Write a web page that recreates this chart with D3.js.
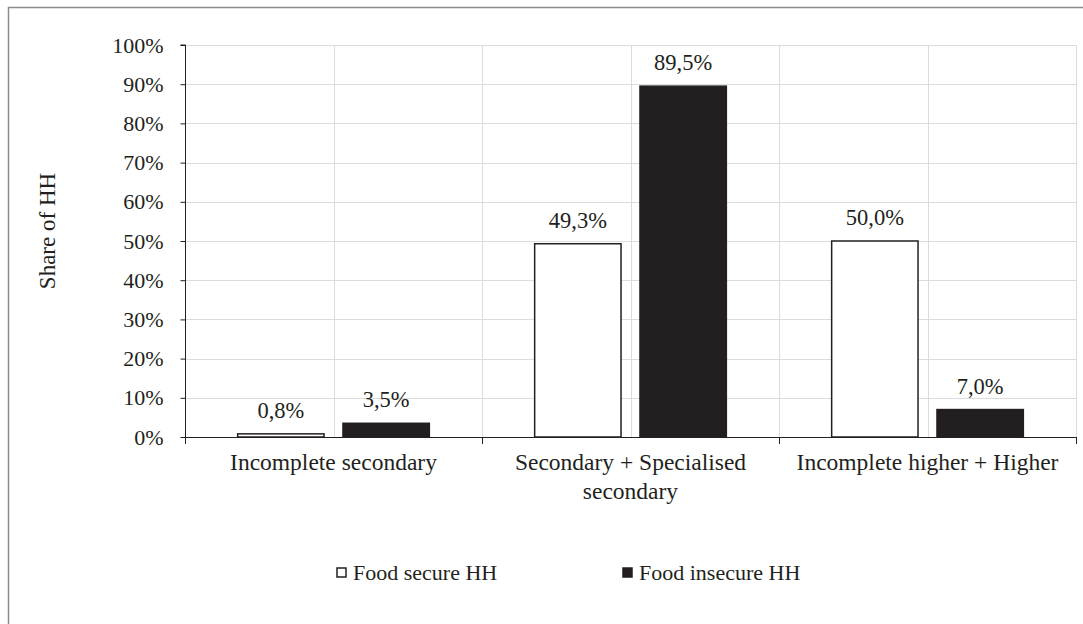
<!DOCTYPE html>
<html>
<head>
<meta charset="utf-8">
<script src="https://cdn.jsdelivr.net/npm/d3@7"></script>
<style>
  body { margin: 0; background: #fff; }
  svg text { font-family: "Liberation Serif", "Times New Roman", serif; fill: #231f20; }
</style>
</head>
<body>
<svg id="chart" width="1083" height="624"></svg>
<script>
// chart data
const categories = [["Incomplete secondary"], ["Secondary + Specialised", "secondary"], ["Incomplete higher + Higher"]];
const seriesNames = ["Food secure HH", "Food insecure HH"];
const foodSecure = [0.8, 49.3, 50.0];
const foodInsecure = [3.5, 89.5, 7.0];
const yTicks = [0, 10, 20, 30, 40, 50, 60, 70, 80, 90, 100];

const fills = ["#ffffff", "#231f20"];
const margin = {left: 185, right: 1076, top: 45, bottom: 437};

const svg = d3.select("#chart");

//outer frame
svg.append("rect")
    .attr("x", 8.5).attr("y", 7.5)
    .attr("width", 1090).attr("height", 640)
    .attr("fill", "none").attr("stroke", "#8c8c8c").attr("stroke-width", 1.5);

let x = d3.scaleBand()
    .domain(d3.range(categories.length))
    .range([margin.left, margin.right]);
let xInner = d3.scaleBand()
    .domain([0, 1])
    .range([0, x.bandwidth()])
    .paddingInner(0.18)
    .paddingOuter(0.5);
let y = d3.scaleLinear()
    .domain([0, 100])
    .range([margin.bottom, margin.top]);

//horizontal grid
svg.append("g").selectAll("line").data(yTicks.slice(1)).join("line")
    .attr("x1", margin.left).attr("x2", margin.right)
    .attr("y1", d => Math.round(y(d)) + 0.5).attr("y2", d => Math.round(y(d)) + 0.5)
    .attr("stroke", "#dcdcdc");

//vertical grid at half categories
let vLines = d3.range(1, categories.length * 2 + 1).map(i => margin.left + i * x.bandwidth() / 2);
svg.append("g").selectAll("line").data(vLines).join("line")
    .attr("x1", d => Math.round(d) + 0.5).attr("x2", d => Math.round(d) + 0.5)
    .attr("y1", margin.top).attr("y2", margin.bottom)
    .attr("stroke", "#dcdcdc");

//bars
let series = [foodSecure, foodInsecure];
series.forEach((vals, s) => {
    svg.append("g").selectAll("rect").data(vals).join("rect")
        .attr("x", (d, i) => x(i) + xInner(s))
        .attr("y", d => y(d))
        .attr("width", xInner.bandwidth())
        .attr("height", d => y(0) - y(d))
        .attr("fill", fills[s])
        .attr("stroke", "#231f20")
        .attr("stroke-width", 1.5);
    svg.append("g").selectAll("text").data(vals).join("text")
        .attr("x", (d, i) => x(i) + xInner(s) + xInner.bandwidth() / 2)
        .attr("y", d => y(d) - 16)
        .attr("text-anchor", "middle")
        .style("font-size", "22.5px")
        .text(d => d.toFixed(1).replace(".", ",") + "%");
});

//y axis
let yAxis = d3.axisLeft(y).tickValues(yTicks).tickSize(5).tickFormat(d => d + "%");
let yg = svg.append("g").attr("transform", `translate(${margin.left + 0.5},0)`).call(yAxis);
yg.select(".domain").attr("stroke", "#231f20").attr("d", `M-5,${y(100)}H0V${y(0)}`);
yg.selectAll(".tick line").attr("stroke", "#231f20");
yg.selectAll(".tick text")
    .attr("x", -22)
    .attr("dy", "7")
    .style("font-size", "22px")
    .style("font-family", "Liberation Serif, serif")
    .attr("fill", "#231f20");

//x axis baseline and ticks
svg.append("line")
    .attr("x1", margin.left).attr("x2", margin.right)
    .attr("y1", y(0) + 0.5).attr("y2", y(0) + 0.5)
    .attr("stroke", "#231f20");
let bounds = d3.range(categories.length + 1).map(i => margin.left + i * x.bandwidth());
svg.append("g").selectAll("line").data(bounds).join("line")
    .attr("x1", d => Math.round(d) + 0.5).attr("x2", d => Math.round(d) + 0.5)
    .attr("y1", y(0)).attr("y2", y(0) + 7)
    .attr("stroke", "#231f20");

//category labels
categories.forEach((lines, i) => {
    let t = svg.append("text")
        .attr("text-anchor", "middle")
        .style("font-size", "23.5px");
    lines.forEach((ln, k) => {
        t.append("tspan")
            .attr("x", x(i) + x.bandwidth() / 2)
            .attr("y", 470 + k * 29)
            .text(ln);
    });
});

//y axis title
svg.append("text")
    .attr("transform", "translate(55,231) rotate(-90)")
    .attr("text-anchor", "middle")
    .style("font-size", "23px")
    .text("Share of HH");

//legend
let legendX = [337, 623];
seriesNames.forEach((name, s) => {
    svg.append("rect")
        .attr("x", legendX[s]).attr("y", 568)
        .attr("width", 9).attr("height", 9)
        .attr("fill", fills[s])
        .attr("stroke", "#231f20").attr("stroke-width", 1.5);
    svg.append("text")
        .attr("x", legendX[s] + 16).attr("y", 580)
        .style("font-size", "22px")
        .text(name);
});
</script>
</body>
</html>
